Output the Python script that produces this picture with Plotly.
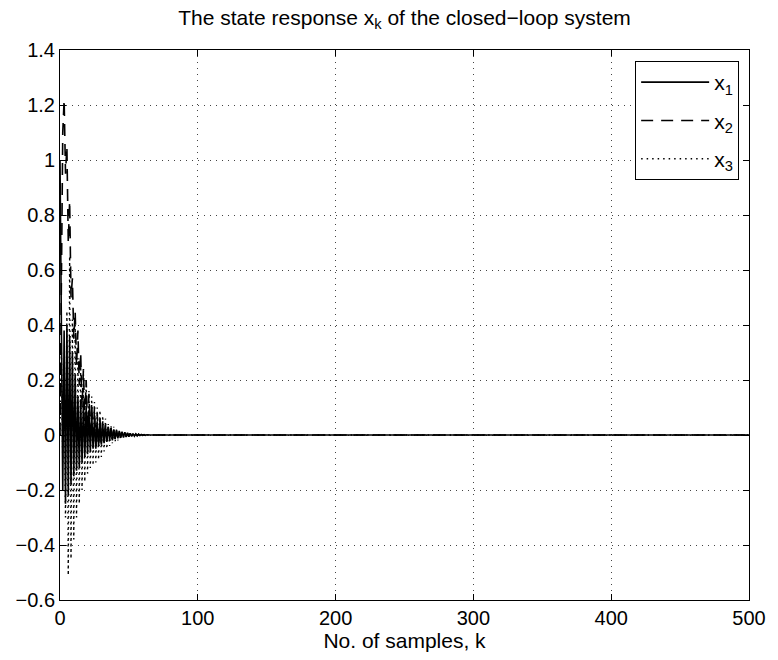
import plotly.graph_objects as go

# Sample index k
k_max = 500

# Hand-read values of the first samples (the remainder is read as 0)
x1_early = [1.0, 0.35, -0.2, 0.38, -0.25, 0.4, -0.22, 0.36, -0.18, 0.3,
            -0.15, 0.22, -0.13, 0.14, -0.12, 0.13, -0.1, 0.12, -0.08, 0.1,
            -0.07, 0.09, -0.06, 0.08, -0.05, 0.06, -0.05, 0.05, -0.04, 0.045,
            -0.035, 0.04, -0.03, 0.035, -0.025, 0.03, -0.02, 0.025, -0.02, 0.02,
            -0.015, 0.018, -0.012, 0.015, -0.01, 0.012, -0.008, 0.01, -0.007, 0.008,
            -0.006, 0.006, -0.005, 0.005, -0.004, 0.004, -0.003, 0.003, -0.002, 0.002,
            -0.0015, 0.0015, -0.001, 0.001]
x2_early = [0.0, 0.6, 1.1, 1.22, 0.95, 1.05, 0.7, 0.85, 0.5, 0.57,
            0.35, 0.45, 0.25, 0.38, 0.18, 0.3, 0.1, 0.24, 0.05, 0.2,
            0.02, 0.15, -0.02, 0.12, -0.03, 0.1, -0.04, 0.08, -0.04, 0.06,
            -0.03, 0.05, -0.03, 0.04, -0.02, 0.03, -0.02, 0.025, -0.015, 0.02,
            -0.012, 0.015, -0.01, 0.012, -0.008, 0.01, -0.006, 0.008, -0.005, 0.006,
            -0.004, 0.005, -0.003, 0.004, -0.002, 0.003, -0.002, 0.002, -0.001, 0.001]
x3_early = [0.0, 0.3, -0.1, 0.2, -0.3, 0.45, -0.51, 0.65, -0.45, 0.42,
            -0.38, 0.4, -0.3, 0.28, -0.25, 0.25, -0.2, 0.22, -0.17, 0.2,
            -0.14, 0.16, -0.12, 0.14, -0.11, 0.12, -0.1, 0.1, -0.09, 0.09,
            -0.08, 0.07, -0.06, 0.06, -0.05, 0.04, -0.04, 0.035, -0.03, 0.03,
            -0.025, 0.02, -0.02, 0.015, -0.015, 0.012, -0.01, 0.01, -0.008, 0.008,
            -0.006, 0.006, -0.005, 0.005, -0.004, 0.004, -0.003, 0.003, -0.002, 0.002,
            -0.0015, 0.0015, -0.001, 0.001]

k = list(range(k_max + 1))
x1 = x1_early + [0.0] * (len(k) - len(x1_early))
x2 = x2_early + [0.0] * (len(k) - len(x2_early))
x3 = x3_early + [0.0] * (len(k) - len(x3_early))

series_names = ["x<sub>1</sub>", "x<sub>2</sub>", "x<sub>3</sub>"]
x_ticks = [0, 100, 200, 300, 400, 500]
y_ticks = [-0.6, -0.4, -0.2, 0, 0.2, 0.4, 0.6, 0.8, 1.0, 1.2, 1.4]

FONT = "Liberation Sans, Arial, Helvetica, sans-serif"

fig = go.Figure()
styles = [("solid", 1.6), ("12px,8px", 1.6), ("1.5px,4px", 1.4)]
for i, (ys, name) in enumerate(zip([x1, x2, x3], series_names)):
    dash, w = styles[i]
    fig.add_trace(go.Scatter(
        x=k, y=ys, mode="lines", name=name, legendgroup=f"g{i}",
        line=dict(color="black", width=w, dash=dash),
    ))

axis_common = dict(
    showline=True, linecolor="black", linewidth=1, mirror="ticks",
    ticks="inside", ticklen=6, tickcolor="black", tickwidth=1,
    showgrid=True, gridcolor="#444444", gridwidth=1, griddash="1px,5px",
    zeroline=False, tickfont=dict(family=FONT, size=20, color="black"),
)

fig.update_layout(
    width=778, height=660,
    margin=dict(l=60, r=21, t=50, b=60),
    paper_bgcolor="white", plot_bgcolor="white",
    font=dict(family=FONT, color="black"),
    title=dict(text="The state response x<sub>k</sub> of the closed\u2212loop system",
               x=0.5, xref="paper", xanchor="center",
               y=0.974, yref="container", yanchor="middle",
               font=dict(family=FONT, size=21, color="black")),
    xaxis=dict(range=[0, 500], tickvals=x_ticks,
               title=dict(text="No. of samples, k", standoff=2,
                          font=dict(family=FONT, size=21, color="black")),
               **axis_common),
    yaxis=dict(range=[-0.6, 1.4], tickvals=y_ticks,
               ticktext=[("\u2212" if v < 0 else "") + f"{abs(v):g}" for v in y_ticks],
               **axis_common),
    legend=dict(x=0.9857, xanchor="right", y=0.98, yanchor="top",
                bgcolor="white", bordercolor="black", borderwidth=1,
                font=dict(family=FONT, size=21, color="black"),
                itemwidth=68, tracegroupgap=8, traceorder="grouped"),
    showlegend=True,
)

fig.write_html("out.html", post_script="document.body.style.margin='0';",
               config={"displayModeBar": False})
